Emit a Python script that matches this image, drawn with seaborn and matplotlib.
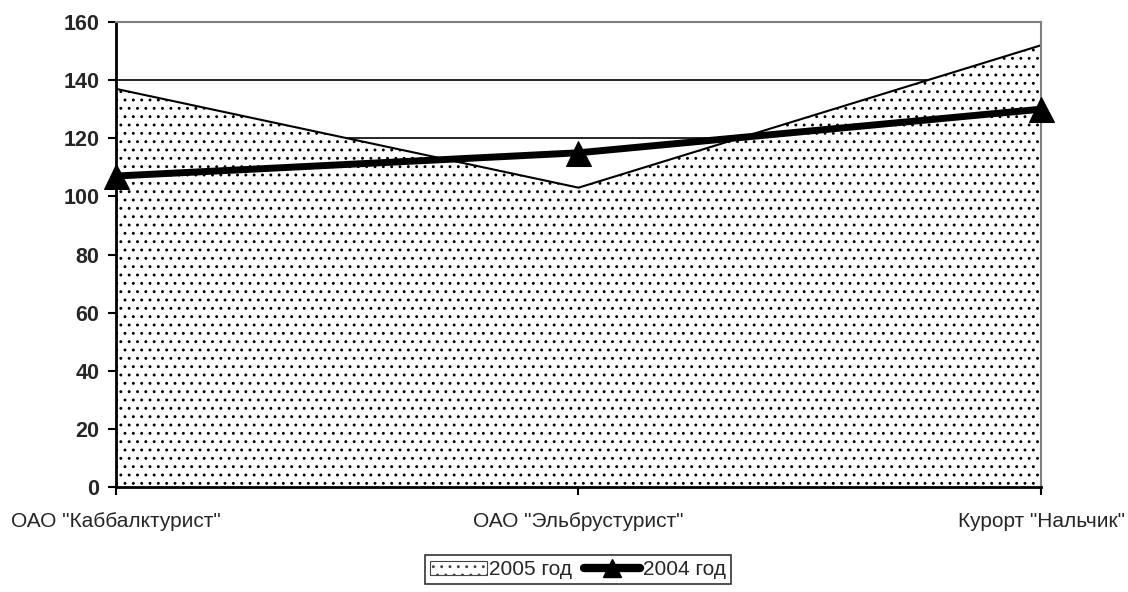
import numpy as np
import pandas as pd
import matplotlib
matplotlib.use("Agg")
import matplotlib.pyplot as plt
import seaborn as sns
from matplotlib.patches import Patch
from matplotlib.lines import Line2D

companies = ['ОАО "Каббалктурист"', 'ОАО "Эльбрустурист"', 'Курорт "Нальчик"']
values_2005 = [137, 103, 152]
values_2004 = [107, 115, 130]
yticks = [0, 20, 40, 60, 80, 100, 120, 140, 160]

sns.set_style("white")
plt.rcParams['font.family'] = ['Liberation Sans', 'DejaVu Sans']
plt.rcParams['hatch.color'] = '#666666'
plt.rcParams['hatch.linewidth'] = 0.9

df = pd.DataFrame({"company": companies, "y2005": values_2005, "y2004": values_2004})
df["pos"] = np.arange(len(companies))

fig = plt.figure(figsize=(11.28, 5.92), dpi=100)
ax = fig.add_axes([0.1028, 0.1774, 0.8201, 0.7854])

# gridlines (hidden behind the filled area where covered)
for t in yticks[1:-1]:
    ax.axhline(t, color="black", lw=1.2, zorder=0)

ax.fill_between(df["pos"], 0, df["y2005"], facecolor="white", edgecolor="black",
                hatch="..", lw=0, zorder=1)
ax.plot(df["pos"], df["y2005"], color="black", lw=1.5, zorder=2)

sns.lineplot(data=df, x="pos", y="y2004", ax=ax, color="black", lw=5,
             marker="^", markersize=18, markeredgecolor="black", zorder=3,
             clip_on=False)

ax.set_xlim(0, 2)
ax.set_ylim(0, 160)
ax.set_yticks(yticks)
ax.set_yticklabels([str(t) for t in yticks], fontweight="bold", fontsize=15.5)
ax.set_xticks(df["pos"])
ax.set_xticklabels(companies, fontsize=15)
ax.set_xlabel("")
ax.set_ylabel("")
ax.tick_params(axis="both", direction="out", length=6, width=1.5, color="black",
               bottom=True, left=True)
ax.tick_params(axis="x", pad=12)
ax.tick_params(axis="y", pad=6)

for side in ["left", "bottom"]:
    ax.spines[side].set_color("black")
    ax.spines[side].set_linewidth(2)
for side in ["top", "right"]:
    ax.spines[side].set_visible(True)
    ax.spines[side].set_color("#808080")
    ax.spines[side].set_linewidth(1.5)

handles = [
    Patch(facecolor="white", edgecolor="#444444", hatch="..", lw=0.8, label="2005 год"),
    Line2D([0], [0], color="black", lw=6, marker="^", markersize=13, label="2004 год"),
]
leg = fig.legend(handles=handles, loc="upper center", bbox_to_anchor=(0.5124, 0.0625), ncol=2,
                 frameon=True, fancybox=False, edgecolor="black", fontsize=15,
                 handlelength=2.7, handletextpad=0.1, columnspacing=0.6,
                 borderpad=0.25, borderaxespad=0)
leg.get_frame().set_linewidth(1.2)

fig.savefig("out.png", dpi=100)
